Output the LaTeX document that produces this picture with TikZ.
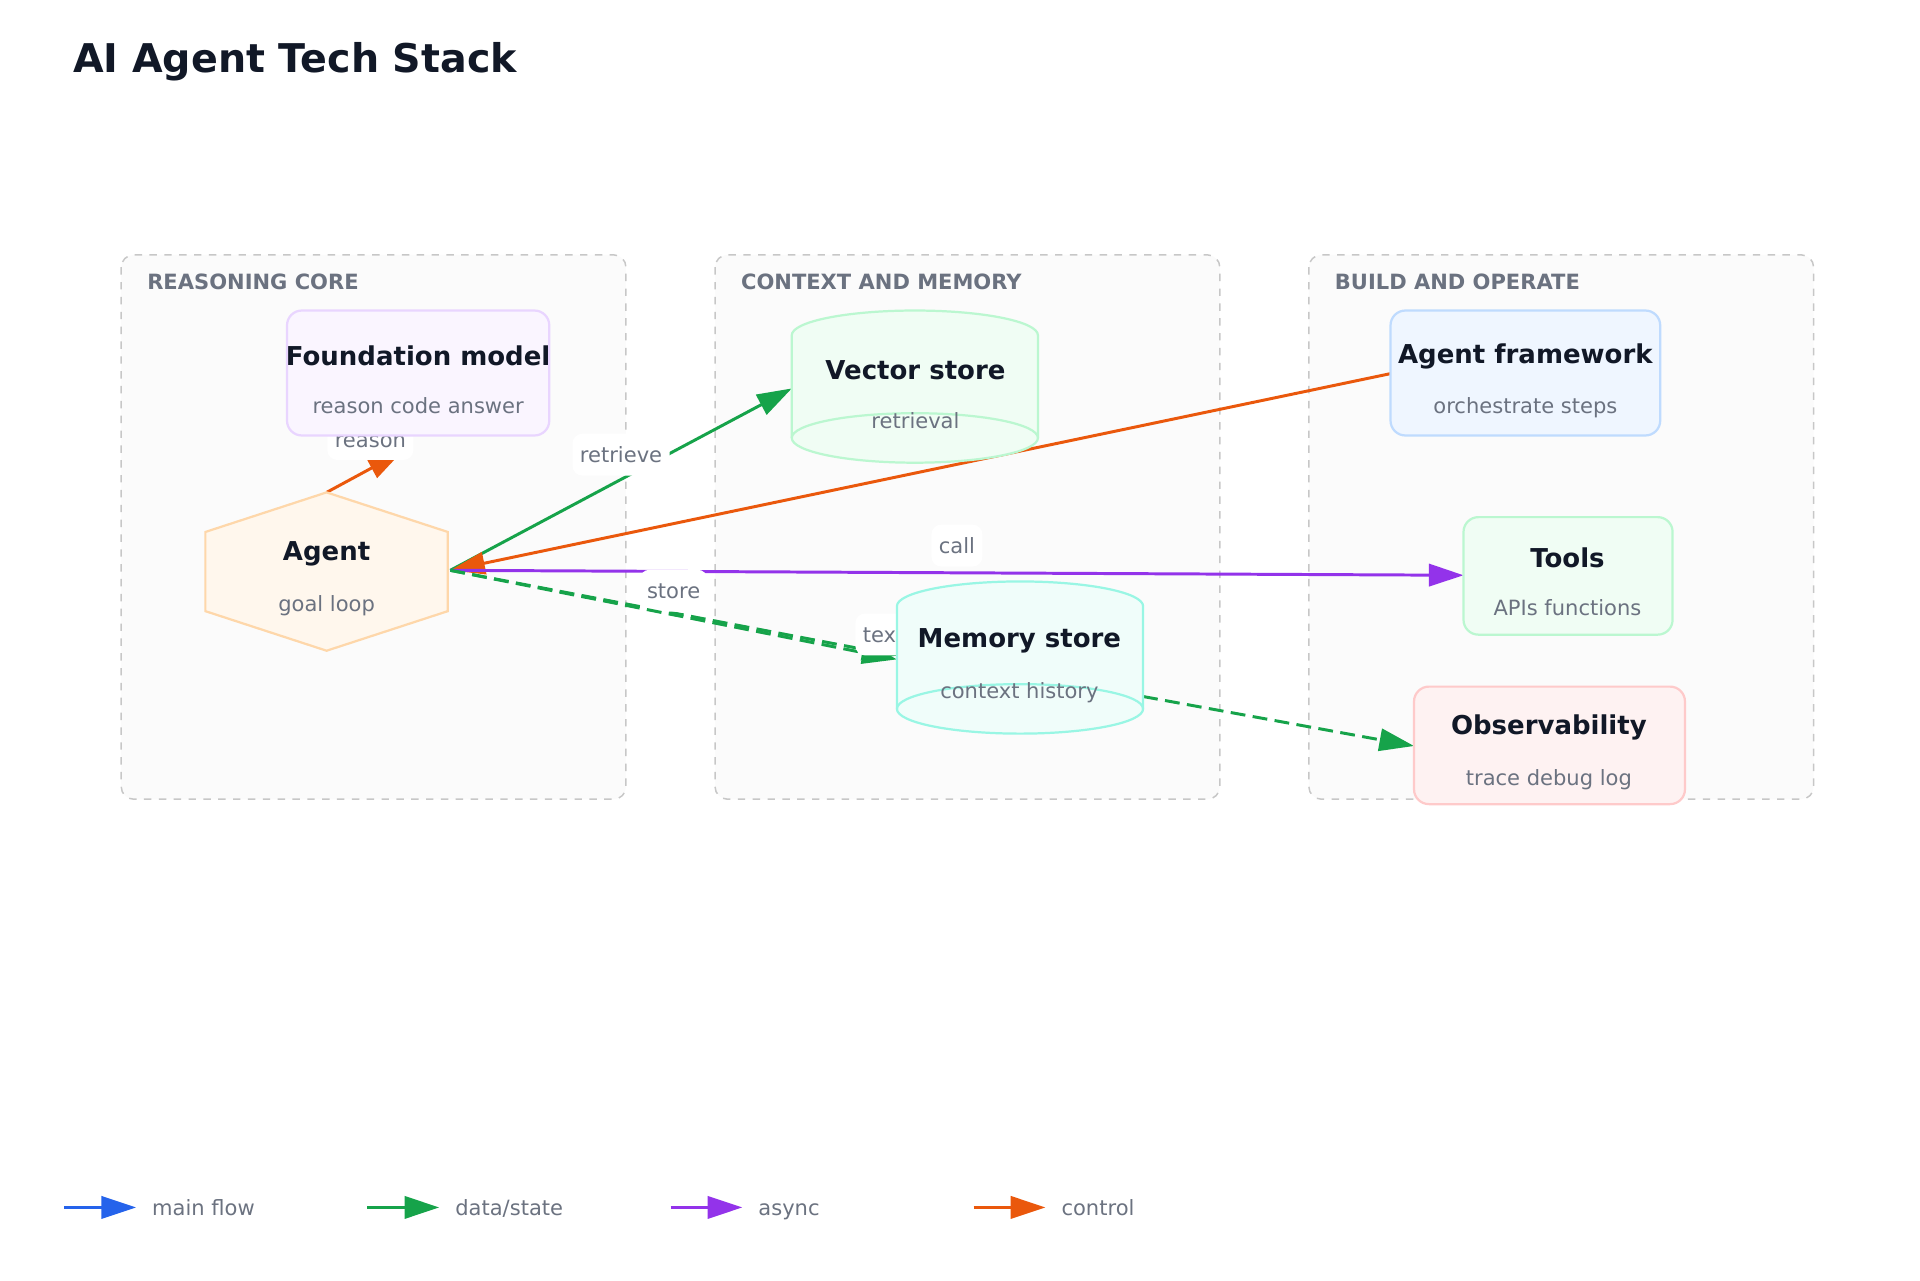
\documentclass[tikz,border=0pt]{standalone}
\usepackage{fontspec}
\setmainfont{DejaVu Sans}
\usetikzlibrary{arrows.meta}
\pgfdeclarelayer{bg}\pgfdeclarelayer{edges}
\pgfsetlayers{bg,edges,main}
\definecolor{ink}{HTML}{111827}
\definecolor{sub}{HTML}{6B7280}
\definecolor{cgreen}{HTML}{16A34A}
\definecolor{cblue}{HTML}{2563EB}
\definecolor{cpurple}{HTML}{9333EA}
\definecolor{corange}{HTML}{EA580C}
\definecolor{fmF}{HTML}{FAF5FF}\definecolor{fmD}{HTML}{E9D5FF}
\definecolor{afF}{HTML}{EFF6FF}\definecolor{afD}{HTML}{BFDBFE}
\definecolor{tlF}{HTML}{F0FDF4}\definecolor{tlD}{HTML}{BBF7D0}
\definecolor{obF}{HTML}{FEF2F2}\definecolor{obD}{HTML}{FECACA}
\definecolor{agF}{HTML}{FFF7ED}\definecolor{agD}{HTML}{FED7AA}
\definecolor{msF}{HTML}{F0FDFA}\definecolor{msD}{HTML}{99F6E4}
\tikzset{
 grp/.style={draw=black!22,dashed,line width=0.6pt,rounded corners=5pt,fill=black!1.5},
 grplbl/.style={anchor=west,text=sub,font=\fontsize{8.5}{10}\selectfont\bfseries},
 box/.style={rounded corners=6pt,line width=0.9pt},
 ttl/.style={text=ink,font=\fontsize{10.5}{12}\selectfont\bfseries},
 sbt/.style={text=sub,font=\fontsize{8.5}{10}\selectfont,text height=1.6ex,text depth=0.4ex},
 edge/.style={line width=1.2pt,-{Triangle[length=14pt,width=9pt]}},
 elbl/.style={fill=white,rounded corners=4pt,text=sub,font=\fontsize{8.5}{10}\selectfont,inner sep=3pt,text height=1.6ex,text depth=0.4ex},
 cyl/.style={line width=0.9pt},
}
\begin{document}
\begin{tikzpicture}[x=0.5pt,y=-0.5pt]
\useasboundingbox (0,0) rectangle (1552,1035);
\node[anchor=west,text=ink,font=\fontsize{16}{19}\selectfont\bfseries] (title) at (52,50) {AI Agent Tech Stack};
\begin{pgfonlayer}{bg}
\draw[grp] (98,206) rectangle (506,646);
\draw[grp] (578,206) rectangle (986,646);
\draw[grp] (1058,206) rectangle (1466,646);
\end{pgfonlayer}
\node[grplbl] (g1) at (112,228) {REASONING CORE};
\node[grplbl] (g2) at (592,228) {CONTEXT AND MEMORY};
\node[grplbl] (g3) at (1072,228) {BUILD AND OPERATE};
% Foundation model
\draw[box,fill=fmF,draw=fmD] (232,251) rectangle (444,352);
\node[ttl] (fm) at (338,288) {Foundation model};
\node[sbt] (fms) at (338,328) {reason code answer};
% Agent framework
\draw[box,fill=afF,draw=afD] (1124,251) rectangle (1342,352);
\node[ttl] (af) at (1233,288) {Agent framework};
\node[sbt] (afs) at (1233,328) {orchestrate steps};
% Tools
\draw[box,fill=tlF,draw=tlD] (1183,418) rectangle (1352,513);
\node[ttl] (tl) at (1267,451) {Tools};
\node[sbt] (tls) at (1267,491) {APIs functions};
% Observability
\draw[box,fill=obF,draw=obD] (1143,555) rectangle (1362,650);
\node[ttl] (ob) at (1252,588) {Observability};
\node[sbt] (obs) at (1252,628) {trace debug log};
% Agent hexagon
\draw[line width=0.9pt,fill=agF,draw=agD] (264,398)--(362,430)--(362,494)--(264,526)--(166,494)--(166,430)--cycle;
\node[ttl] (ag) at (264,448) {Agent};
\node[sbt] (ags) at (264,488) {goal loop};
% Vector store cylinder
\draw[cyl,fill=tlF,draw=tlD] (640,271) arc[start angle=-180,end angle=0,x radius=99.5,y radius=20] -- (839,354) arc[start angle=0,end angle=180,x radius=99.5,y radius=20] -- cycle;
\draw[cyl,draw=tlD] (640,354) arc[start angle=-180,end angle=0,x radius=99.5,y radius=20];
\node[ttl] (vs) at (740,299) {Vector store};
\node[sbt] (vss) at (740,340) {retrieval};
% Memory store cylinder
\draw[cyl,fill=msF,draw=msD] (725,490) arc[start angle=-180,end angle=0,x radius=99.5,y radius=20] -- (924,573) arc[start angle=0,end angle=180,x radius=99.5,y radius=20] -- cycle;
\draw[cyl,draw=msD] (725,573) arc[start angle=-180,end angle=0,x radius=99.5,y radius=20];
\node[ttl] (ms) at (824,518) {Memory store};
\node[sbt] (mss) at (824,558) {context history};
% anchor coordinates
\coordinate (agN) at (264,398);
\coordinate (agE) at (364,461);
\coordinate (fmS) at (325,365);
\coordinate (vsW) at (640,314);
\coordinate (afW) at (1124,302);
\coordinate (tlW) at (1183,465);
\coordinate (msW) at (725,530);
\coordinate (msW2) at (725,533);
\coordinate (msE) at (924,563);
\coordinate (obW) at (1143,603);
\begin{pgfonlayer}{edges}
\draw[edge,corange] (agN) -- node[elbl,pos=0.58,yshift=12pt] {reason} (fmS);
\draw[edge,cgreen] (agE) -- node[elbl,pos=0.5,yshift=10pt] {retrieve} (vsW);
\draw[edge,corange] (afW) -- (agE);
\draw[edge,cpurple] (agE) -- node[elbl,pos=0.5,yshift=11pt] {call} (tlW);
\draw[edge,cgreen,dashed,dash pattern=on 6pt off 3pt] (agE) -- node[elbl,pos=0.5,yshift=9pt] {store} (msW);
\draw[edge,cgreen,dashed,dash pattern=on 6pt off 3pt] (agE) -- node[elbl,pos=0.97,yshift=9pt] {text} (msW2);
\draw[edge,cgreen,dashed,dash pattern=on 6pt off 3pt] (msE) -- (obW);
\end{pgfonlayer}
% legend
\coordinate (l1a) at (52,976); \coordinate (l1b) at (110,976);
\coordinate (l2a) at (297,976); \coordinate (l2b) at (355,976);
\coordinate (l3a) at (542,976); \coordinate (l3b) at (600,976);
\coordinate (l4a) at (787,976); \coordinate (l4b) at (845,976);
\draw[edge,cblue] (l1a) -- (l1b);
\draw[edge,cgreen] (l2a) -- (l2b);
\draw[edge,cpurple] (l3a) -- (l3b);
\draw[edge,corange] (l4a) -- (l4b);
\node[sbt,anchor=west] (t1) at (116,976) {main flow};
\node[sbt,anchor=west] (t2) at (361,976) {data/state};
\node[sbt,anchor=west] (t3) at (606,976) {async};
\node[sbt,anchor=west] (t4) at (851,976) {control};
\end{tikzpicture}
\end{document}
